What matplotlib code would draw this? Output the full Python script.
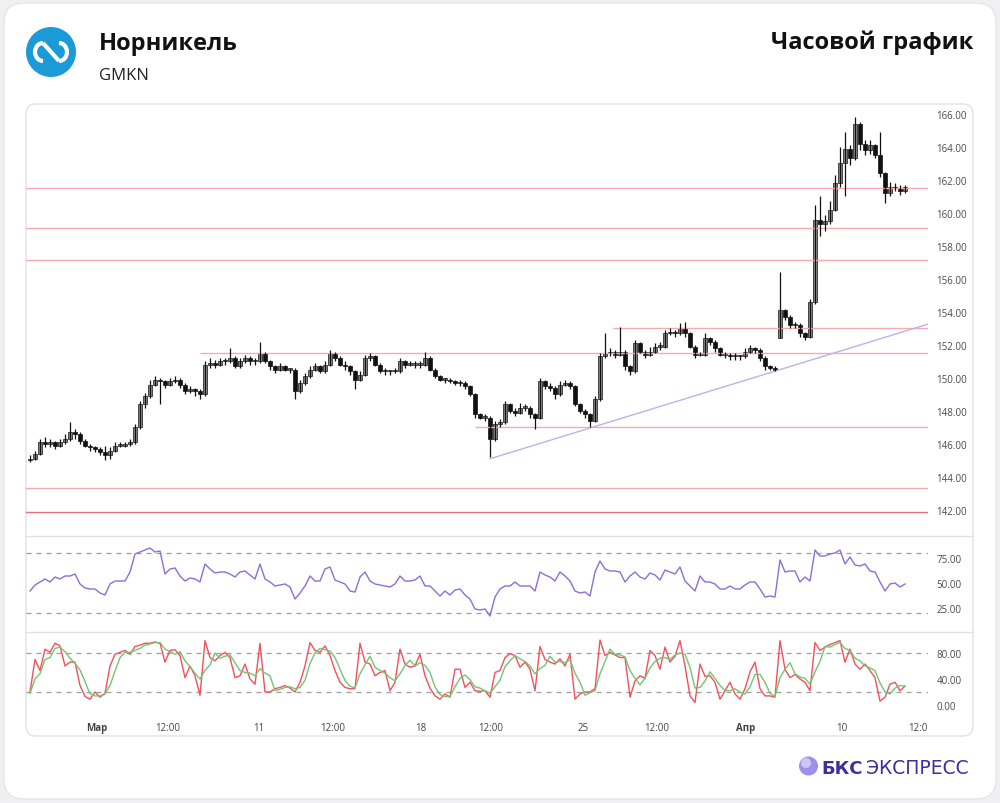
import numpy as np
import matplotlib.pyplot as plt
from matplotlib.patches import FancyBboxPatch, Circle, Arc

plt.rcParams['font.family'] = ['Open Sans', 'DejaVu Sans']

# ---------------- data (hourly candles) ----------------
opens = [145.0, 145.1, 145.4, 146.1, 146.0, 146.1, 145.9, 146.1, 146.3, 146.7,
         146.6, 146.2, 145.9, 145.8, 145.7, 145.5, 145.3, 145.6, 145.9, 145.9,
         146.0, 146.1, 147.0, 148.4, 148.9, 149.6, 149.9, 149.8, 149.6, 149.8,
         149.9, 149.6, 149.2, 149.3, 149.2, 149.0, 150.8, 150.9, 150.8, 151.0,
         151.0, 151.2, 150.7, 151.0, 151.2, 151.0, 151.0, 151.5, 151.0, 150.7,
         150.5, 150.7, 150.5, 150.5, 149.2, 149.7, 150.1, 150.5, 150.7, 150.4,
         150.8, 151.5, 151.2, 150.8, 150.7, 150.4, 149.9, 150.2, 151.2, 151.3,
         150.8, 150.4, 150.4, 150.4, 150.4, 151.0, 150.8, 150.8, 150.8, 150.8,
         151.2, 150.5, 150.1, 149.9, 149.9, 149.8, 149.7, 149.7, 149.5, 149.0,
         147.8, 147.6, 147.6, 146.3, 147.2, 147.3, 148.4, 148.0, 147.9, 148.2,
         148.2, 147.8, 147.6, 149.8, 149.5, 149.4, 149.0, 149.6, 149.7, 149.5,
         148.4, 148.0, 147.8, 147.4, 148.7, 151.3, 151.5, 151.6, 151.4, 151.6,
         150.7, 150.4, 152.1, 151.6, 151.4, 151.6, 151.9, 151.9, 152.7, 152.8,
         152.7, 153.0, 152.7, 151.9, 151.4, 151.4, 152.4, 152.2, 151.8, 151.4,
         151.4, 151.3, 151.3, 151.3, 151.6, 151.8, 151.7, 151.2, 150.7, 150.6,
         152.4, 154.1, 153.7, 153.2, 153.2, 152.7, 152.5, 154.6, 159.6, 159.3,
         159.5, 160.2, 161.8, 163.0, 163.9, 163.3, 165.4, 164.2, 163.8, 164.1,
         163.5, 162.4, 161.2, 161.6, 161.5, 161.3]
closes = [145.1, 145.4, 146.1, 146.0, 146.1, 145.9, 146.1, 146.3, 146.7, 146.6,
          146.2, 145.9, 145.8, 145.7, 145.5, 145.3, 145.6, 145.9, 145.9, 146.0,
          146.1, 147.0, 148.4, 148.9, 149.6, 149.9, 149.8, 149.6, 149.8, 149.9,
          149.6, 149.2, 149.3, 149.2, 149.0, 150.8, 150.9, 150.8, 151.0, 151.0,
          151.2, 150.7, 151.0, 151.2, 151.0, 151.0, 151.5, 151.0, 150.7, 150.5,
          150.7, 150.5, 150.5, 149.2, 149.7, 150.1, 150.5, 150.7, 150.4, 150.8,
          151.5, 151.2, 150.8, 150.7, 150.4, 149.9, 150.2, 151.2, 151.3, 150.8,
          150.4, 150.4, 150.4, 150.4, 151.0, 150.8, 150.8, 150.8, 150.8, 151.2,
          150.5, 150.1, 149.9, 149.9, 149.8, 149.7, 149.7, 149.5, 149.0, 147.8,
          147.6, 147.6, 146.3, 147.2, 147.3, 148.4, 148.0, 147.9, 148.2, 148.2,
          147.8, 147.6, 149.8, 149.5, 149.4, 149.0, 149.6, 149.7, 149.5, 148.4,
          148.0, 147.8, 147.4, 148.7, 151.3, 151.5, 151.6, 151.4, 151.6, 150.7,
          150.4, 152.1, 151.6, 151.4, 151.6, 151.9, 151.9, 152.7, 152.8, 152.7,
          153.0, 152.7, 151.9, 151.4, 151.4, 152.4, 152.2, 151.8, 151.4, 151.4,
          151.3, 151.3, 151.3, 151.6, 151.8, 151.7, 151.2, 150.7, 150.6, 150.5,
          154.1, 153.7, 153.2, 153.2, 152.7, 152.5, 154.6, 159.6, 159.3, 159.5,
          160.2, 161.8, 163.0, 163.9, 163.3, 165.4, 164.2, 163.8, 164.1, 163.5,
          162.4, 161.2, 161.6, 161.5, 161.3, 161.6]
highs = [145.3, 145.6, 146.3, 146.4, 146.3, 146.2, 146.3, 146.6, 147.3, 146.9,
         146.7, 146.3, 146.0, 145.9, 145.8, 145.9, 145.8, 146.1, 146.1, 146.1,
         146.3, 147.2, 148.6, 149.1, 149.9, 150.1, 150.0, 149.9, 150.0, 150.1,
         150.0, 149.7, 149.5, 149.4, 149.3, 151.0, 151.2, 151.1, 151.2, 151.2,
         151.8, 151.3, 151.2, 151.4, 151.3, 151.2, 152.2, 151.6, 151.1, 150.8,
         150.9, 150.8, 150.6, 150.6, 149.9, 150.3, 150.7, 150.9, 150.8, 151.0,
         151.7, 151.6, 151.3, 151.0, 150.8, 150.5, 150.4, 151.4, 151.5, 151.4,
         150.9, 150.6, 150.5, 150.6, 151.2, 151.1, 151.0, 151.0, 151.0, 151.6,
         151.3, 150.6, 150.2, 150.0, 150.0, 149.9, 149.9, 149.8, 149.6, 149.1,
         147.9, 147.8, 147.7, 147.4, 147.5, 148.6, 148.5, 148.2, 148.5, 148.4,
         148.3, 147.9, 150.0, 149.9, 149.7, 149.5, 149.8, 149.9, 149.8, 149.6,
         148.5, 148.1, 147.9, 148.9, 151.5, 152.7, 151.8, 151.7, 153.1, 151.7,
         150.8, 152.3, 152.2, 151.7, 151.9, 152.1, 152.2, 152.9, 153.0, 152.9,
         153.3, 153.4, 152.8, 152.0, 151.6, 152.7, 152.5, 152.3, 151.9, 151.6,
         151.5, 151.5, 151.4, 151.8, 152.0, 151.9, 151.8, 151.3, 150.8, 150.7,
         156.4, 154.2, 153.8, 153.4, 153.3, 152.8, 154.8, 160.5, 161.0, 159.9,
         160.7, 162.3, 164.0, 164.9, 164.1, 165.8, 165.5, 164.4, 164.4, 164.2,
         164.9, 162.5, 161.9, 161.8, 161.7, 161.7]
lows = [144.9, 145.0, 145.3, 145.8, 145.8, 145.7, 145.8, 146.0, 146.2, 146.3,
        146.0, 145.8, 145.6, 145.5, 145.3, 145.0, 145.1, 145.5, 145.8, 145.8,
        145.9, 146.0, 146.9, 148.2, 148.8, 149.5, 148.4, 149.4, 149.5, 149.7,
        149.4, 149.0, 149.1, 148.9, 148.7, 148.9, 150.6, 150.6, 150.7, 150.8,
        150.9, 150.6, 150.6, 150.9, 150.8, 150.8, 150.9, 150.9, 150.5, 150.3,
        150.4, 150.4, 150.3, 148.7, 149.1, 149.6, 150.0, 150.4, 150.3, 150.3,
        150.7, 151.0, 150.7, 150.5, 150.2, 149.3, 149.8, 150.1, 151.0, 150.7,
        150.3, 150.2, 150.2, 150.3, 150.3, 150.6, 150.7, 150.6, 150.6, 150.7,
        150.4, 150.0, 149.8, 149.7, 149.7, 149.6, 149.5, 149.3, 148.9, 147.6,
        147.5, 147.4, 145.2, 146.2, 147.0, 147.2, 147.9, 147.7, 147.8, 148.0,
        147.6, 146.9, 147.5, 149.3, 149.2, 148.7, 148.9, 149.5, 149.3, 148.3,
        147.9, 147.6, 147.0, 147.3, 148.6, 151.2, 151.3, 151.2, 151.3, 150.5,
        150.2, 150.3, 151.5, 151.2, 151.3, 151.5, 151.7, 151.8, 152.6, 152.5,
        152.6, 152.5, 151.8, 151.2, 151.3, 151.3, 152.0, 151.6, 151.3, 151.2,
        151.1, 151.1, 151.1, 151.2, 151.5, 151.5, 151.0, 150.5, 150.5, 150.4,
        152.4, 153.5, 153.0, 153.0, 152.5, 152.3, 152.4, 154.5, 158.6, 158.9,
        159.3, 160.1, 161.6, 161.0, 162.9, 163.2, 163.8, 163.5, 163.6, 163.3,
        162.2, 160.6, 161.0, 161.3, 161.1, 161.2]

rsi = [42, 48, 51, 54, 51, 56, 54, 57, 57, 59,
       49, 45, 44, 44, 40, 38, 49, 52, 52, 52,
       61, 79, 81, 83, 85, 81, 82, 59, 64, 65,
       57, 52, 55, 54, 51, 69, 64, 60, 61, 61,
       59, 56, 61, 62, 58, 54, 69, 54, 51, 47,
       48, 49, 46, 34, 40, 47, 57, 52, 52, 64,
       66, 53, 51, 49, 42, 41, 56, 61, 52, 49,
       48, 47, 46, 49, 57, 52, 52, 53, 57, 47,
       47, 42, 37, 42, 38, 43, 44, 38, 34, 24,
       23, 24, 17, 36, 44, 47, 47, 51, 47, 47,
       47, 42, 61, 58, 56, 52, 61, 57, 52, 42,
       40, 41, 37, 61, 72, 64, 62, 62, 61, 51,
       57, 61, 56, 54, 60, 58, 53, 63, 61, 59,
       66, 52, 47, 42, 57, 51, 51, 49, 44, 44,
       47, 44, 44, 48, 51, 51, 44, 36, 37, 36,
       73, 61, 62, 62, 51, 56, 52, 83, 77, 77,
       79, 80, 83, 69, 76, 68, 67, 69, 62, 61,
       51, 42, 49, 50, 46, 49]

stoch_k = [20, 70, 53, 86, 81, 95, 91, 60, 66, 66,
           30, 13, 9, 20, 12, 18, 60, 78, 81, 84,
           78, 90, 92, 95, 95, 97, 95, 66, 84, 85,
           76, 42, 60, 45, 15, 99, 73, 68, 76, 81,
           73, 42, 45, 63, 40, 32, 95, 20, 20, 25,
           27, 30, 26, 20, 35, 60, 96, 84, 81, 91,
           76, 53, 35, 27, 25, 25, 95, 66, 63, 45,
           50, 53, 22, 35, 86, 63, 58, 60, 78, 45,
           26, 14, 9, 17, 12, 55, 55, 27, 35, 22,
           21, 22, 12, 50, 53, 73, 79, 76, 58, 66,
           55, 22, 90, 70, 66, 63, 71, 60, 78, 9,
           17, 20, 20, 25, 100, 76, 81, 77, 73, 73,
           12, 37, 45, 41, 84, 76, 55, 89, 66, 75,
           99, 60, 14, 4, 63, 44, 45, 35, 9, 22,
           35, 17, 9, 25, 51, 66, 25, 14, 14, 12,
           99, 55, 42, 47, 40, 35, 22, 96, 84, 89,
           93, 96, 99, 66, 86, 63, 55, 63, 53, 42,
           6, 12, 32, 35, 22, 29]
stoch_d = [18, 40, 48, 70, 73, 87, 89, 82, 72, 64,
           54, 36, 17, 14, 14, 17, 30, 52, 73, 81,
           81, 84, 87, 92, 94, 96, 96, 86, 82, 78,
           82, 68, 59, 49, 40, 53, 62, 80, 72, 75,
           77, 65, 53, 50, 49, 45, 56, 49, 45, 22,
           24, 27, 28, 25, 27, 38, 64, 80, 87, 85,
           83, 73, 55, 38, 29, 26, 48, 62, 75, 58,
           53, 49, 42, 37, 48, 61, 69, 60, 65, 61,
           50, 28, 16, 13, 13, 28, 41, 46, 39, 28,
           26, 22, 18, 28, 38, 59, 68, 76, 71, 67,
           60, 48, 56, 61, 75, 66, 67, 65, 70, 49,
           35, 15, 19, 22, 48, 67, 86, 78, 77, 74,
           53, 41, 31, 41, 57, 67, 72, 73, 70, 77,
           80, 78, 58, 26, 27, 37, 51, 41, 30, 22,
           22, 25, 20, 17, 28, 47, 47, 35, 18, 13,
           42, 55, 65, 48, 43, 41, 32, 51, 67, 90,
           89, 93, 96, 87, 84, 72, 68, 60, 57, 53,
           34, 20, 17, 26, 30, 29]

# horizontal levels: price and the bar where each line starts
level_prices = [161.5, 159.1, 157.15, 153.0, 151.5, 147.0, 143.3, 141.9]
level_start = [-1, -1, -1, 116.6, 34, 89, -1, -1]
trend_bars = [92, 180]
trend_prices = [145.1, 153.3]

price_ticks = list(range(142, 167, 2))
rsi_ticks = [25, 50, 75]
stoch_ticks = [0, 40, 80]
xtick_pos = [13.4, 27.6, 45.8, 60.6, 78.2, 92.2, 110.6, 125.4, 143.2, 162.4, 177.6]
xtick_labels = ['Мар', '12:00', '11', '12:00', '18', '12:00', '25', '12:00', 'Апр', '10', '12:0']

# ---------------- figure ----------------
W, H = 1000, 804
fig = plt.figure(figsize=(W / 100, H / 100), dpi=100)
fig.patch.set_facecolor('#f0f0f2')

bg = fig.add_axes([0, 0, 1, 1])
bg.set_xlim(0, W)
bg.set_ylim(H, 0)
bg.axis('off')
bg.add_patch(FancyBboxPatch((4, 4), 992, 796, boxstyle='round,pad=0,rounding_size=20',
                            fc='white', ec='#e6e6e8', lw=1))
bg.add_patch(FancyBboxPatch((26, 105), 947, 632, boxstyle='round,pad=0,rounding_size=10',
                            fc='white', ec='#e2e2e4', lw=1))
bg.hlines([537, 633], 26, 973, color='#e1e0ee', lw=1)

# logo
bg.add_patch(Circle((51, 53), 25, fc='#1b9ad8', ec='none'))
bg.add_patch(Arc((43, 53), 16, 18, theta1=90, theta2=270, color='white', lw=3))
bg.add_patch(Arc((59, 53), 16, 18, theta1=-90, theta2=90, color='white', lw=3))
bg.plot([43, 59], [44, 62], color='white', lw=3, solid_capstyle='butt')

bg.text(99, 50, 'Норникель', fontsize=17, fontweight='bold', color='#111', va='baseline')
bg.text(99, 80, 'GMKN', fontsize=12, color='#222', va='baseline')
bg.text(973, 49, 'Часовой график', fontsize=17, fontweight='bold', color='#111',
        ha='right', va='baseline')

# footer brand
bg.add_patch(Circle((808.5, 767), 9.5, fc='#9c90ea', ec='none'))
bg.add_patch(Circle((806, 764), 5, fc='#d9d3fb', ec='none', alpha=0.8))
bg.text(821, 774, 'БКС', fontsize=13, fontweight='bold', color='#3d2f9c',
        va='baseline', family='DejaVu Sans')
bg.text(866, 774, 'ЭКСПРЕСС', fontsize=13.5, color='#3d2f9c', va='baseline',
        family='DejaVu Sans')


def panel(top, bottom):
    ax = fig.add_axes([26 / W, 1 - bottom / H, 902 / W, (bottom - top) / H])
    ax.set_facecolor('none')
    for s in ax.spines.values():
        s.set_visible(False)
    ax.set_xlim(-0.8, 179.6)
    ax.yaxis.tick_right()
    ax.tick_params(axis='y', length=0, pad=6, labelsize=7, labelcolor='#4a4a4a')
    ax.tick_params(axis='x', length=0)
    ax.set_xticks([])
    return ax


x = np.arange(len(closes))
o = np.array(opens)
c = np.array(closes)
hi = np.array(highs)
lo = np.array(lows)
up = c >= o

# price panel
axp = panel(105, 537)
axp.set_ylim(140.42, 166.6)
for p, s in zip(level_prices, level_start):
    col = '#e8707a' if p < 142.5 else '#f6a9b0'
    axp.hlines(p, s, 180, color=col, lw=1)
axp.plot(trend_bars, trend_prices, color='#bdb2ea', lw=1)
axp.vlines(x, lo, hi, color='#111111', lw=0.9)
body_lo = np.minimum(o, c)
body_h = np.maximum(np.abs(c - o), 0.08)
axp.bar(x[up], body_h[up], bottom=body_lo[up], width=0.7, color='#8a8a8a',
        edgecolor='#111111', linewidth=0.5)
axp.bar(x[~up], body_h[~up], bottom=body_lo[~up], width=0.7, color='#111111',
        edgecolor='#111111', linewidth=0.5)
axp.set_yticks(price_ticks)
axp.set_yticklabels([f'{v:.2f}' for v in price_ticks])

# RSI panel
axr = panel(537, 633)
axr.set_ylim(1, 97)
axr.axhline(80, color='#9d9d9d', lw=0.9, ls=(0, (4, 4)))
axr.axhline(20, color='#9d9d9d', lw=0.9, ls=(0, (4, 4)))
axr.plot(x, rsi, color='#8b6fd6', lw=1)
axr.set_yticks(rsi_ticks)
axr.set_yticklabels([f'{v:.2f}' for v in rsi_ticks])

# Stochastic panel
axs = panel(633, 716)
axs.set_ylim(-15.4, 112.3)
axs.axhline(80, color='#9d9d9d', lw=0.9, ls=(0, (4, 4)))
axs.axhline(20, color='#9d9d9d', lw=0.9, ls=(0, (4, 4)))
axs.plot(x, stoch_k, color='#f4505b', lw=1)
axs.plot(x, stoch_d, color='#74c474', lw=1)
axs.set_yticks(stoch_ticks)
axs.set_yticklabels([f'{v:.2f}' for v in stoch_ticks])
axs.set_xticks(xtick_pos)
axs.set_xticklabels(xtick_labels)
axs.tick_params(axis='x', length=0, pad=5, labelsize=7, labelcolor='#444444')
for t in axs.get_xticklabels():
    if t.get_text() in ('Мар', 'Апр'):
        t.set_fontweight('bold')

fig.savefig('out.png', dpi=100, facecolor=fig.get_facecolor())
